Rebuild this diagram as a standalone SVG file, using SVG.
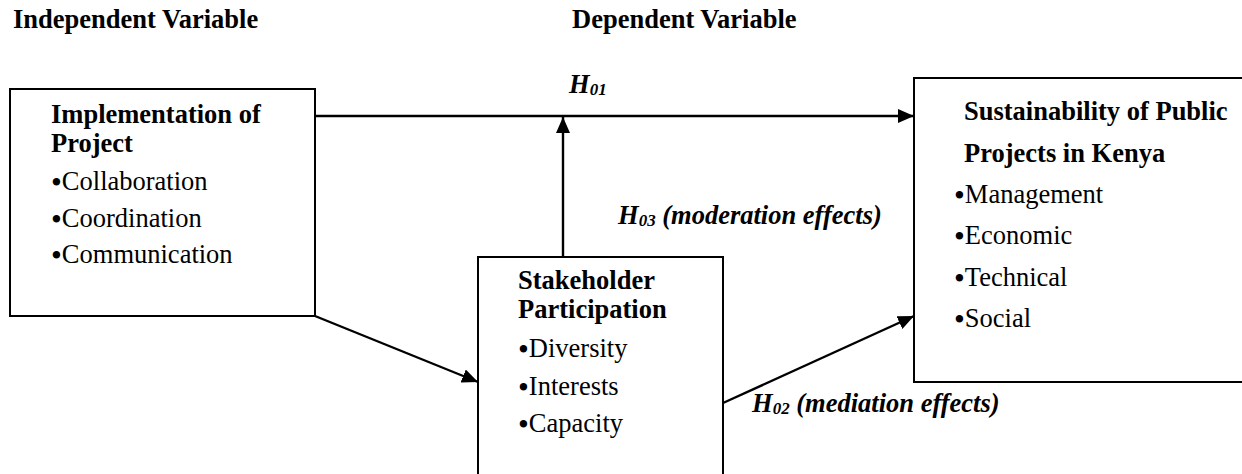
<svg xmlns="http://www.w3.org/2000/svg" width="1242" height="474" viewBox="0 0 1242 474">
<style>
.box{fill:#fff;stroke:#000;stroke-width:2}
.t{font-family:"Liberation Serif","Times New Roman",serif;font-size:26.5px;fill:#000}
.b{font-weight:bold}
.bi{font-weight:bold;font-style:italic}
.sub{font-size:17px}
.bul{font-size:31px}
.conn{stroke:#000;stroke-width:2.4;fill:none;marker-end:url(#arr)}
</style>
<defs>
<marker id="arr" viewBox="0 0 16 14" refX="16" refY="7" markerWidth="16" markerHeight="14" orient="auto" markerUnits="userSpaceOnUse">
<path d="M0,0 L16,7 L0,14 z" fill="#000"/>
</marker>
</defs>
<rect width="1242" height="474" fill="#fff"/>
<g id="headings">
<text class="t b" x="13" y="28">Independent Variable</text>
<text class="t b" x="572" y="28">Dependent Variable</text>
</g>
<g id="connectors">
<line class="conn" x1="315" y1="116" x2="914" y2="116"/>
<line class="conn" x1="563" y1="257" x2="563" y2="117"/>
<line class="conn" x1="315" y1="316" x2="478" y2="382"/>
<line class="conn" x1="723" y1="403" x2="914" y2="316"/>
</g>
<g id="labels">
<text class="t bi" x="569" y="93">H<tspan class="sub" dy="2">01</tspan></text>
<text class="t bi" x="618" y="224">H<tspan class="sub" dy="2">03</tspan><tspan dy="-2"> (moderation effects)</tspan></text>
<text class="t bi" x="752" y="412">H<tspan class="sub" dy="2">02</tspan><tspan dy="-2"> (mediation effects)</tspan></text>
</g>
<g id="node-implementation">
<rect class="box" x="10" y="89" width="305" height="227"/>
<text class="t b" x="51" y="123">Implementation of</text>
<text class="t b" x="51" y="152">Project</text>
<text class="t" x="51" y="190"><tspan class="bul" dy="3">•</tspan><tspan dy="-3">Collaboration</tspan></text>
<text class="t" x="51" y="227"><tspan class="bul" dy="3">•</tspan><tspan dy="-3">Coordination</tspan></text>
<text class="t" x="51" y="263"><tspan class="bul" dy="3">•</tspan><tspan dy="-3">Communication</tspan></text>
</g>
<g id="node-stakeholder">
<rect class="box" x="478" y="257" width="245" height="240"/>
<text class="t b" x="518" y="289">Stakeholder</text>
<text class="t b" x="518" y="318">Participation</text>
<text class="t" x="518" y="357"><tspan class="bul" dy="3">•</tspan><tspan dy="-3">Diversity</tspan></text>
<text class="t" x="518" y="395"><tspan class="bul" dy="3">•</tspan><tspan dy="-3">Interests</tspan></text>
<text class="t" x="518" y="432"><tspan class="bul" dy="3">•</tspan><tspan dy="-3">Capacity</tspan></text>
</g>
<g id="node-sustainability">
<rect class="box" x="914" y="78" width="340" height="304"/>
<text class="t b" x="964" y="120">Sustainability of Public</text>
<text class="t b" x="964" y="162">Projects in Kenya</text>
<text class="t" x="954" y="203"><tspan class="bul" dy="3">•</tspan><tspan dy="-3">Management</tspan></text>
<text class="t" x="954" y="244"><tspan class="bul" dy="3">•</tspan><tspan dy="-3">Economic</tspan></text>
<text class="t" x="954" y="286"><tspan class="bul" dy="3">•</tspan><tspan dy="-3">Technical</tspan></text>
<text class="t" x="954" y="327"><tspan class="bul" dy="3">•</tspan><tspan dy="-3">Social</tspan></text>
</g>
</svg>
